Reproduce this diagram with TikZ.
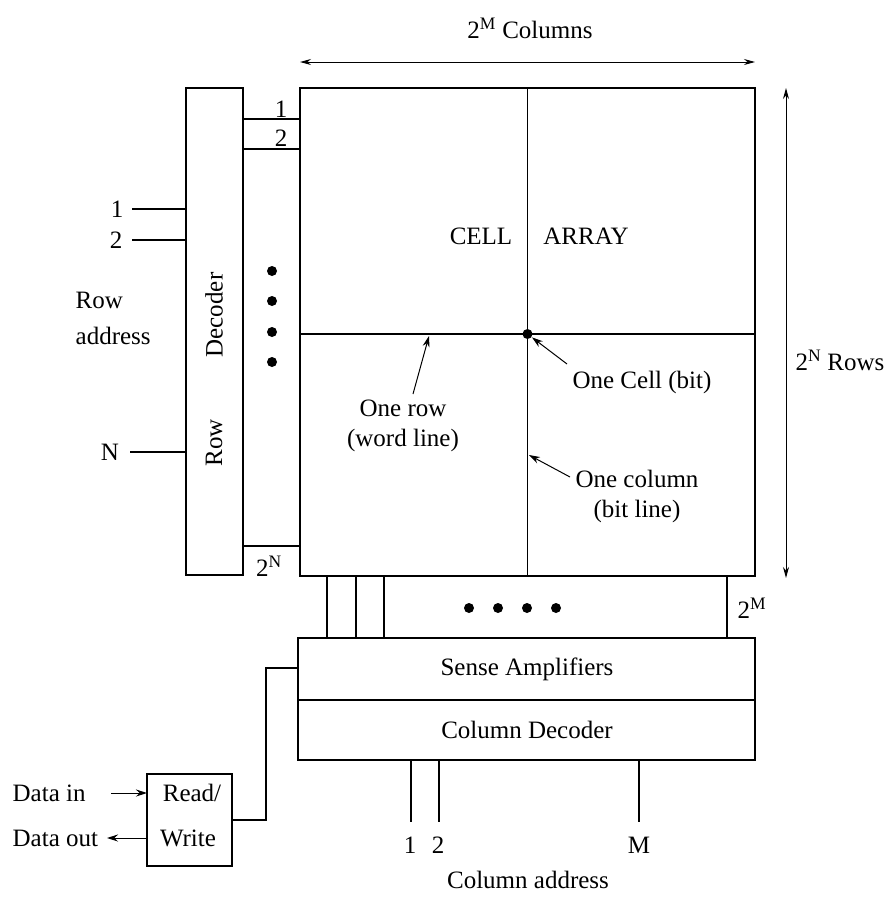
\documentclass[tikz,border=0pt]{standalone}
\usepackage{fontspec}
\setmainfont{Liberation Serif}
\usetikzlibrary{arrows.meta}
\begin{document}
\begin{tikzpicture}[x=1pt,y=-1pt, line width=1.3pt,
  box/.style={draw, rectangle, inner sep=0pt, outer sep=0pt},
  lbl/.style={font=\fontsize{25}{30}\selectfont, inner sep=0pt},
  arr/.style={-{Stealth[length=11pt,width=7pt]}, line width=1pt},
  darr/.style={{Stealth[length=11pt,width=6pt]}-{Stealth[length=11pt,width=6pt]}, line width=1pt},
  dotc/.style={circle, fill, inner sep=0pt, minimum size=10pt}]
\useasboundingbox (0,0) rectangle (891,897);

% main boxes
\node[box, minimum width=57pt, minimum height=487pt] (rowdec) at (214.5,331.5) {};
\node[box, minimum width=455pt, minimum height=488pt] (array) at (527.5,332) {};
\node[box, minimum width=457pt, minimum height=62pt] (sense) at (526.5,669) {};
\node[box, minimum width=457pt, minimum height=60pt] (coldec) at (526.5,730) {};
\node[box, minimum width=85pt, minimum height=92pt] (rw) at (189.5,820) {};

% array internal lines
\coordinate (hl) at (0,334);
\draw (array.north) -- (array.south);
\draw (array.west |- hl) -- (array.east |- hl);
\node[dotc] (cell) at (527.5,334) {};

% texts in boxes
\node[lbl] (cellt) at (481,236) {CELL};
\node[lbl] (arrayt) at (586,236) {ARRAY};
\node[lbl, rotate=90] (dect) at (214,315) {Decoder};
\node[lbl, rotate=90] (rowt) at (214,443) {Row};
\node[lbl] (senset) at (527,669) {Sense Amplifiers};
\node[lbl] (coldect) at (527,730) {Column Decoder};
\node[lbl] (rwt1) at (192,793) {Read/};
\node[lbl] (rwt2) at (188,838) {Write};

% word lines from row decoder
\coordinate (w1) at (0,119);
\coordinate (w2) at (0,149);
\coordinate (wn) at (0,546);
\draw (rowdec.east |- w1) -- (array.west |- w1);
\draw (rowdec.east |- w2) -- (array.west |- w2);
\draw (rowdec.east |- wn) -- (array.west |- wn);
\node[lbl] (w1t) at (281,109) {1};
\node[lbl] (w2t) at (281,138) {2};
\node[lbl] (wnt) at (269,566) {2\textsuperscript{N}};
\foreach \y [count=\i] in {271,301,332,362}
  \node[dotc] (rd\i) at (272,\y) {};

% row address inputs
\coordinate (ra1) at (132,209);
\coordinate (ra2) at (132,240);
\coordinate (ran) at (130,452);
\draw (ra1) -- (ra1 -| rowdec.west);
\draw (ra2) -- (ra2 -| rowdec.west);
\draw (ran) -- (ran -| rowdec.west);
\node[lbl] (ra1t) at (117,209) {1};
\node[lbl] (ra2t) at (116,240) {2};
\node[lbl] (rant) at (110,452) {N};
\node[lbl, anchor=west] (rat1) at (75,300) {Row};
\node[lbl, anchor=west] (rat2) at (75,336) {address};

% bit lines to sense amplifiers
\foreach \x [count=\i] in {327,356,384,727} {
  \coordinate (bl\i) at (\x,0);
  \draw (array.south -| bl\i) -- (sense.north -| bl\i);
}
\node[lbl] (bmt) at (752,608) {2\textsuperscript{M}};
\foreach \x [count=\i] in {469,498,527,556}
  \node[dotc] (cd\i) at (\x,608) {};

% column address
\foreach \x [count=\i] in {411,439,639} {
  \coordinate (ca\i) at (\x,822);
  \draw (coldec.south -| ca\i) -- (ca\i);
}
\node[lbl] (ca1t) at (410,845) {1};
\node[lbl] (ca2t) at (438,845) {2};
\node[lbl] (camt) at (639,845) {M};
\node[lbl] (cat) at (528,880) {Column address};

% read/write
\coordinate (rwc) at (266,668);
\draw (rw.east) -| (rwc) -- (sense.west |- rwc);
\coordinate (din) at (111,793);
\coordinate (dout) at (107,838);
\draw[arr] (din) -- (rw.west |- din);
\draw[arr] (rw.west |- dout) -- (dout);
\node[lbl, anchor=west] (dint) at (12,793) {Data in};
\node[lbl, anchor=west] (doutt) at (12,838) {Data out};

% dimension arrows
\coordinate (tl) at (300,62);
\coordinate (tr) at (755,62);
\draw[darr] (tl) -- (tr);
\node[lbl] (colst) at (530,28) {2\textsuperscript{M} Columns};
\coordinate (rt) at (786,88);
\coordinate (rb) at (786,578);
\draw[darr] (rt) -- (rb);
\node[lbl] (rowst) at (840,360) {2\textsuperscript{N} Rows};

% annotation labels
\node[lbl, align=center] (rowl) at (403,426) {One row\\(word line)};
\coordinate (rowtail) at (413,394);
\coordinate (rowtip) at (429,336);
\draw[arr] (rowtail) -- (rowtip);

\node[lbl] (celll) at (642,382) {One Cell (bit)};
\coordinate (celltail) at (567,364);
\draw[arr] (celltail) -- (cell);

\node[lbl, align=center] (coll) at (637,496) {One column\\(bit line)};
\coordinate (coltail) at (570,477);
\coordinate (coltip) at (529,455);
\draw[arr] (coltail) -- (coltip);
\end{tikzpicture}
\end{document}
